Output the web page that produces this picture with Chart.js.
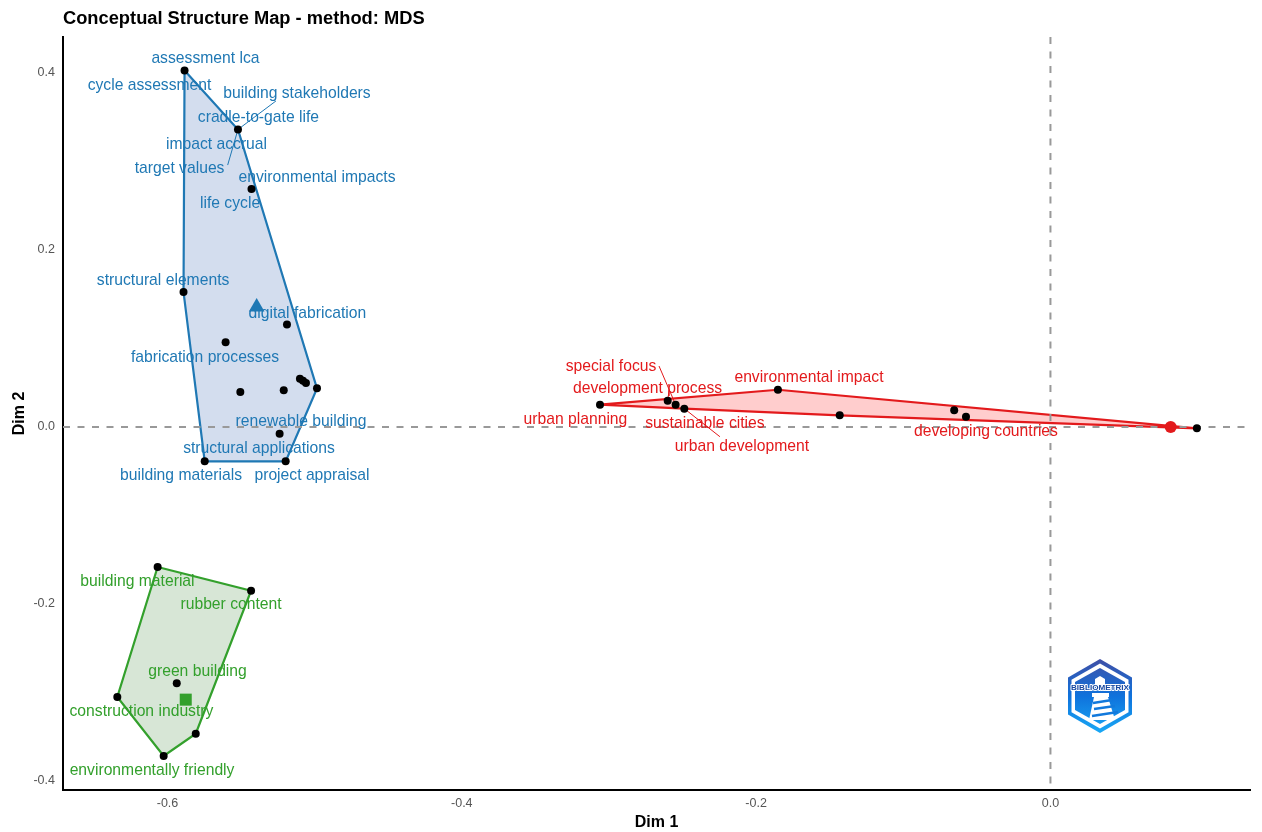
<!DOCTYPE html>
<html>
<head>
<meta charset="utf-8">
<title>Conceptual Structure Map</title>
<script src="https://cdn.jsdelivr.net/npm/chart.js@4"></script>
<style>
  html, body { margin: 0; padding: 0; background: #fff; }
  #wrap { width: 1262px; height: 832px; }
</style>
</head>
<body>
<div id="wrap"><canvas id="myChart" width="1262" height="832"></canvas></div>
<script>
const xTicks = [-0.6, -0.4, -0.2, 0.0]
const yTicks = [-0.4, -0.2, 0.0, 0.2, 0.4]

// term points per cluster
const blueX = [-0.5884, -0.5521, -0.5429, -0.5891, -0.5188, -0.5605, -0.5100, -0.5079, -0.5059, -0.4984, -0.5505, -0.5210, -0.5238, -0.5747, -0.5197]
const blueY = [0.4028, 0.3362, 0.2689, 0.1525, 0.1158, 0.0957, 0.0546, 0.0523, 0.0497, 0.0437, 0.0395, 0.0415, -0.0076, -0.0388, -0.0388]
const redX = [-0.3061, -0.2601, -0.2547, -0.2488, -0.1852, -0.1432, -0.0654, -0.0574, 0.0995]
const redY = [0.0252, 0.0297, 0.0252, 0.0207, 0.0421, 0.0132, 0.0189, 0.0116, -0.0015]
const greenX = [-0.6067, -0.5432, -0.6341, -0.6026, -0.5808, -0.5937]
const greenY = [-0.1582, -0.1850, -0.3051, -0.3718, -0.3466, -0.2896]

// hull outlines, closed
const blueHullX = [-0.5884, -0.5521, -0.4984, -0.5197, -0.5747, -0.5891, -0.5884]
const blueHullY = [0.4028, 0.3362, 0.0437, -0.0388, -0.0388, 0.1525, 0.4028]
const redHullX = [-0.3061, -0.1852, 0.0995, -0.1432, -0.2488, -0.3061]
const redHullY = [0.0252, 0.0421, -0.0015, 0.0132, 0.0207, 0.0252]
const greenHullX = [-0.6067, -0.5432, -0.5808, -0.6026, -0.6341, -0.6067]
const greenHullY = [-0.1582, -0.1850, -0.3466, -0.3718, -0.3051, -0.1582]

// cluster centres
const blueCentre = [-0.5394, 0.1356]
const redCentre = [0.0817, 0.0]
const greenCentre = [-0.5876, -0.3081]

// term labels, placed where the picture has them
const blueLabels = ['assessment lca', 'cycle assessment', 'building stakeholders', 'cradle-to-gate life', 'impact accrual', 'target values', 'environmental impacts', 'life cycle', 'structural elements', 'digital fabrication', 'fabrication processes', 'renewable building', 'structural applications', 'building materials', 'project appraisal']
const blueLabelX = [-0.5742, -0.6122, -0.5120, -0.5382, -0.5667, -0.5918, -0.4984, -0.5575, -0.6030, -0.5049, -0.5745, -0.5093, -0.5378, -0.5908, -0.5018]
const blueLabelY = [0.4169, 0.3870, 0.3774, 0.3503, 0.3198, 0.2932, 0.2831, 0.2537, 0.1661, 0.1294, 0.0797, 0.0068, -0.0232, -0.0542, -0.0542]
const redLabels = ['special focus', 'development process', 'environmental impact', 'urban planning', 'sustainable cities', 'urban development', 'developing countries']
const redLabelX = [-0.2986, -0.2738, -0.1641, -0.3228, -0.2348, -0.2096, -0.0438]
const redLabelY = [0.0695, 0.0441, 0.0565, 0.0096, 0.0045, -0.0209, -0.0045]
const greenLabels = ['building material', 'rubber content', 'green building', 'construction industry', 'environmentally friendly']
const greenLabelX = [-0.6204, -0.5568, -0.5796, -0.6177, -0.6105]
const greenLabelY = [-0.1740, -0.2000, -0.2751, -0.3209, -0.3870]

// repel segments from a label to its point
const blueLeaders = [
  [[-0.5263, 0.3684], [-0.5521, 0.3362]],
  [[-0.5591, 0.2960], [-0.5521, 0.3362]]
]
const redLeaders = [
  [[-0.2660, 0.0689], [-0.2547, 0.0252]],
  [[-0.2591, 0.0418], [-0.2601, 0.0297]],
  [[-0.2246, -0.0110], [-0.2488, 0.0207]]
]

const BLUE = '#1f78b4'
const RED = '#e31a1c'
const GREEN = '#33a02c'
const FONT = '"Liberation Sans", Arial, sans-serif'

function toPoints(xs, ys) {
  return xs.map((x, i) => ({ x: x, y: ys[i] }))
}

function dots(xs, ys) {
  return {
    data: toPoints(xs, ys),
    pointRadius: 4,
    pointBackgroundColor: '#000',
    pointBorderWidth: 0,
    showLine: false,
    order: 1
  }
}

function hull(xs, ys, line, fill) {
  return {
    data: toPoints(xs, ys),
    showLine: true,
    tension: 0,
    borderColor: line,
    borderWidth: 2.2,
    backgroundColor: fill,
    fill: 'shape',
    pointRadius: 0,
    order: 5
  }
}

function leader(pair, color) {
  return {
    data: pair.map(p => ({ x: p[0], y: p[1] })),
    showLine: true,
    borderColor: color,
    borderWidth: 1,
    pointRadius: 0,
    order: 3
  }
}

function centre(p, color, style, r) {
  return {
    data: [{ x: p[0], y: p[1] }],
    pointStyle: style,
    pointRadius: r,
    pointBackgroundColor: color,
    pointBorderWidth: 0,
    showLine: false,
    order: 2
  }
}

function refLine(pts) {
  return {
    data: pts,
    showLine: true,
    borderColor: '#999999',
    borderWidth: 2,
    borderDash: [7, 7.5],
    pointRadius: 0,
    order: 4
  }
}

const X_MIN = -0.671, X_MAX = 0.1356, Y_MIN = -0.4102, Y_MAX = 0.4407

const datasets = [
  hull(blueHullX, blueHullY, BLUE, 'rgb(211,221,238)'),
  hull(redHullX, redHullY, RED, 'rgb(255,205,205)'),
  hull(greenHullX, greenHullY, GREEN, 'rgb(215,230,214)'),
  refLine([{ x: X_MIN, y: 0 }, { x: X_MAX, y: 0 }]),
  refLine([{ x: 0, y: Y_MAX }, { x: 0, y: Y_MIN }]),
  ...blueLeaders.map(p => leader(p, BLUE)),
  ...redLeaders.map(p => leader(p, RED)),
  centre(blueCentre, BLUE, 'triangle', 9),
  centre(redCentre, RED, 'circle', 6),
  centre(greenCentre, GREEN, 'rect', 8.5),
  dots(blueX, blueY),
  dots(redX, redY),
  dots(greenX, greenY)
]

// title, repel labels and the logo go on the canvas after the datasets
const annotations = {
  id: 'annotations',
  afterDatasetsDraw(chart) {
    const ctx = chart.ctx
    const sx = chart.scales.x
    const sy = chart.scales.y
    ctx.save()
    ctx.textAlign = 'center'
    ctx.textBaseline = 'middle'
    ctx.font = '15.7px ' + FONT
    const groups = [
      [blueLabels, blueLabelX, blueLabelY, BLUE],
      [redLabels, redLabelX, redLabelY, RED],
      [greenLabels, greenLabelX, greenLabelY, GREEN]
    ]
    groups.forEach(g => {
      ctx.fillStyle = g[3]
      g[0].forEach((t, i) => {
        ctx.fillText(t, sx.getPixelForValue(g[1][i]), sy.getPixelForValue(g[2][i]) + 1)
      })
    })
    ctx.textAlign = 'left'
    ctx.fillStyle = '#000'
    ctx.font = 'bold 18.3px ' + FONT
    ctx.fillText('Conceptual Structure Map - method: MDS', 63, 19)
    drawLogo(ctx, 1100, 696)
    ctx.restore()
  }
}

function hexPath(ctx, cx, cy, rx, ry) {
  ctx.beginPath()
  ctx.moveTo(cx, cy - ry)
  ctx.lineTo(cx + rx, cy - ry / 2)
  ctx.lineTo(cx + rx, cy + ry / 2)
  ctx.lineTo(cx, cy + ry)
  ctx.lineTo(cx - rx, cy + ry / 2)
  ctx.lineTo(cx - rx, cy - ry / 2)
  ctx.closePath()
}

function drawLogo(ctx, cx, cy) {
  const grad = ctx.createLinearGradient(0, cy - 37, 0, cy + 37)
  grad.addColorStop(0, '#3f4fa6')
  grad.addColorStop(0.5, '#0f72dc')
  grad.addColorStop(1, '#19a8f5')
  ctx.fillStyle = grad
  hexPath(ctx, cx, cy, 32, 37)
  ctx.fill()
  ctx.fillStyle = '#fff'
  hexPath(ctx, cx, cy, 28.5, 32.5)
  ctx.fill()
  ctx.fillStyle = grad
  hexPath(ctx, cx, cy, 25, 28)
  ctx.fill()
  // lantern and gallery
  ctx.fillStyle = '#fff'
  ctx.beginPath()
  ctx.moveTo(cx - 5, cy - 11)
  ctx.lineTo(cx - 5, cy - 17)
  ctx.lineTo(cx, cy - 20)
  ctx.lineTo(cx + 5, cy - 17)
  ctx.lineTo(cx + 5, cy - 11)
  ctx.closePath()
  ctx.fill()
  ctx.fillRect(cx - 8, cy - 3, 17, 4)
  // tower
  ctx.beginPath()
  ctx.moveTo(cx - 6, cy + 1)
  ctx.lineTo(cx + 8, cy + 1)
  ctx.lineTo(cx + 15, cy + 24)
  ctx.lineTo(cx - 11, cy + 24)
  ctx.closePath()
  ctx.fill()
  // stripes
  ctx.strokeStyle = '#1279dc'
  ctx.lineWidth = 2.5
  ctx.beginPath()
  ctx.moveTo(cx - 7, cy + 7); ctx.lineTo(cx + 12, cy + 4)
  ctx.moveTo(cx - 6, cy + 13); ctx.lineTo(cx + 15, cy + 10)
  ctx.moveTo(cx - 8, cy + 20); ctx.lineTo(cx + 18, cy + 16)
  ctx.stroke()
  // name across the middle, with a white halo
  ctx.textAlign = 'center'
  ctx.font = 'bold 8.1px ' + FONT
  ctx.lineJoin = 'round'
  ctx.strokeStyle = '#fff'
  ctx.lineWidth = 2
  ctx.strokeText('BIBLIOMETRIX', cx, cy - 8)
  ctx.fillStyle = '#14459f'
  ctx.fillText('BIBLIOMETRIX', cx, cy - 8)
}

const config = {
  type: 'scatter',
  data: { datasets: datasets },
  options: {
    responsive: false,
    animation: false,
    layout: { padding: { top: 37, right: 12 } },
    plugins: {
      legend: { display: false },
      tooltip: { enabled: false }
    },
    scales: {
      x: {
        type: 'linear',
        min: X_MIN,
        max: X_MAX,
        afterFit: axis => { axis.height = 42 },
        afterBuildTicks: axis => { axis.ticks = xTicks.map(v => ({ value: v })) },
        grid: { drawOnChartArea: false, drawTicks: false },
        border: { color: '#000', width: 2 },
        ticks: {
          color: '#555555',
          padding: 6,
          maxRotation: 0,
          font: { family: FONT, size: 12.5 },
          callback: v => v.toFixed(1)
        },
        title: {
          display: true,
          text: 'Dim 1',
          color: '#000',
          padding: { top: 3, bottom: 0 },
          font: { family: FONT, size: 16, weight: 'bold' }
        }
      },
      y: {
        type: 'linear',
        min: Y_MIN,
        max: Y_MAX,
        afterFit: axis => { axis.width = 63 },
        afterBuildTicks: axis => { axis.ticks = yTicks.map(v => ({ value: v })) },
        grid: { drawOnChartArea: false, drawTicks: false },
        border: { color: '#000', width: 2 },
        ticks: {
          color: '#555555',
          padding: 8,
          font: { family: FONT, size: 12.5 },
          callback: v => v.toFixed(1)
        },
        title: {
          display: true,
          text: 'Dim 2',
          color: '#000',
          padding: { top: 10, bottom: 0 },
          font: { family: FONT, size: 16, weight: 'bold' }
        }
      }
    }
  },
  plugins: [annotations]
}

const myChart = new Chart(document.getElementById('myChart'), config)
</script>
</body>
</html>
